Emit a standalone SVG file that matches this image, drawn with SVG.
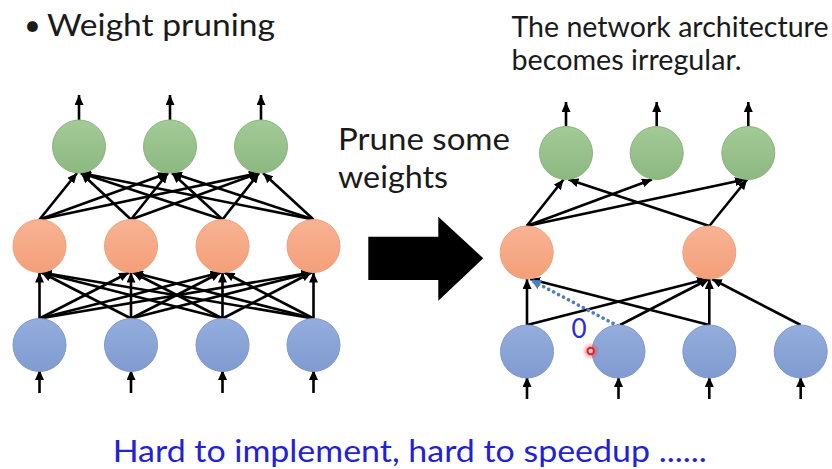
<svg xmlns="http://www.w3.org/2000/svg" width="832" height="469" viewBox="0 0 832 469">
  <style>
    .txt { font-family: Lato, "Noto Sans", "Liberation Sans", sans-serif; fill: #1a1a1a; }
    .blue-txt { font-family: Lato, "Noto Sans", "Liberation Sans", sans-serif; fill: #1f22d6; }
    .g { fill: url(#gradG); stroke: #8ab57d; stroke-width: 1; }
    .o { fill: url(#gradO); stroke: #f0a07c; stroke-width: 1; }
    .b { fill: url(#gradB); stroke: #7f98cc; stroke-width: 1; }
    .edge { stroke: #000; stroke-width: 2.6; fill: none; marker-end: url(#ah); }
    .pruned { stroke: #4d7fbf; stroke-width: 3.6; fill: none; stroke-dasharray: 0.1 5.5; stroke-linecap: round; marker-end: url(#ahb); }
  </style>
  <defs>
    <linearGradient id="gradG" x1="0" y1="0" x2="0" y2="1">
      <stop offset="0" stop-color="#a3ca97"/>
      <stop offset="1" stop-color="#8db880"/>
    </linearGradient>
    <linearGradient id="gradO" x1="0" y1="0" x2="0" y2="1">
      <stop offset="0" stop-color="#f8b394"/>
      <stop offset="1" stop-color="#f49f78"/>
    </linearGradient>
    <linearGradient id="gradB" x1="0" y1="0" x2="0" y2="1">
      <stop offset="0" stop-color="#94addd"/>
      <stop offset="1" stop-color="#809bd0"/>
    </linearGradient>
    <radialGradient id="glow">
      <stop offset="0" stop-color="#ff3030" stop-opacity="0.7"/>
      <stop offset="1" stop-color="#ff3030" stop-opacity="0"/>
    </radialGradient>
    <marker id="ah" markerUnits="userSpaceOnUse" markerWidth="11" markerHeight="9" refX="10" refY="4.5" orient="auto">
      <path d="M0,0 L10,4.5 L0,9 z" fill="#000"/>
    </marker>
    <marker id="ahb" markerUnits="userSpaceOnUse" markerWidth="12" markerHeight="10" refX="10" refY="5" orient="auto">
      <path d="M0,0 L10,5 L0,10 z" fill="#4d7fbf"/>
    </marker>
  </defs>

  <rect width="832" height="469" fill="#ffffff"/>

  <!-- Texts -->
  <g id="title">
    <text class="txt" x="24" y="35" font-size="29">•</text>
    <text class="txt" x="47" y="36" font-size="30" textLength="228" lengthAdjust="spacingAndGlyphs">Weight pruning</text>
  </g>
  <g id="note">
    <text class="txt" x="511.5" y="36.5" font-size="28" textLength="317" lengthAdjust="spacingAndGlyphs">The network architecture</text>
    <text class="txt" x="511.5" y="70" font-size="28" textLength="230" lengthAdjust="spacingAndGlyphs">becomes irregular.</text>
  </g>
  <g id="prune-label">
    <text class="txt" x="338" y="150" font-size="31" textLength="172" lengthAdjust="spacingAndGlyphs">Prune some</text>
    <text class="txt" x="338" y="188" font-size="31" textLength="110" lengthAdjust="spacingAndGlyphs">weights</text>
  </g>
  <g id="big-arrow">
    <polygon points="368.3,236.7 438.3,236.7 438.3,216.7 483.3,258.3 438.3,300.7 438.3,280 368.3,280" fill="#000"/>
  </g>
  <g id="footer">
    <text class="blue-txt" x="112.7" y="462" font-size="30" textLength="594" lengthAdjust="spacingAndGlyphs">Hard to implement, hard to speedup ......</text>
  </g>

  <!-- Connectors -->
  <g id="connectors">
    <!-- left: outputs -->
    <line class="edge" x1="79" y1="120" x2="79" y2="95"/>
    <line class="edge" x1="170" y1="120" x2="170" y2="95"/>
    <line class="edge" x1="261" y1="120" x2="261" y2="95"/>
    <!-- left: inputs -->
    <line class="edge" x1="39.5" y1="393" x2="39.5" y2="370"/>
    <line class="edge" x1="131" y1="393" x2="131" y2="370"/>
    <line class="edge" x1="222.5" y1="393" x2="222.5" y2="370"/>
    <line class="edge" x1="313.5" y1="393" x2="313.5" y2="370"/>
    <!-- left: hidden -> output -->
    <line class="edge" x1="39.5" y1="219.5" x2="77" y2="173"/>
    <line class="edge" x1="39.5" y1="219.5" x2="168" y2="173"/>
    <line class="edge" x1="39.5" y1="219.5" x2="259" y2="173"/>
    <line class="edge" x1="131" y1="219.5" x2="81" y2="173"/>
    <line class="edge" x1="131" y1="219.5" x2="168" y2="173"/>
    <line class="edge" x1="131" y1="219.5" x2="259" y2="173"/>
    <line class="edge" x1="222.5" y1="219.5" x2="81" y2="173"/>
    <line class="edge" x1="222.5" y1="219.5" x2="172" y2="173"/>
    <line class="edge" x1="222.5" y1="219.5" x2="259" y2="173"/>
    <line class="edge" x1="313.5" y1="219.5" x2="81" y2="173"/>
    <line class="edge" x1="313.5" y1="219.5" x2="172" y2="173"/>
    <line class="edge" x1="313.5" y1="219.5" x2="263" y2="173"/>
    <!-- left: input -> hidden -->
    <line class="edge" x1="39.5" y1="318.5" x2="39.5" y2="272.5"/>
    <line class="edge" x1="39.5" y1="318.5" x2="129" y2="272.5"/>
    <line class="edge" x1="39.5" y1="318.5" x2="220.5" y2="272.5"/>
    <line class="edge" x1="39.5" y1="318.5" x2="311.5" y2="272.5"/>
    <line class="edge" x1="131" y1="318.5" x2="41.5" y2="272.5"/>
    <line class="edge" x1="131" y1="318.5" x2="131" y2="272.5"/>
    <line class="edge" x1="131" y1="318.5" x2="220.5" y2="272.5"/>
    <line class="edge" x1="131" y1="318.5" x2="311.5" y2="272.5"/>
    <line class="edge" x1="222.5" y1="318.5" x2="41.5" y2="272.5"/>
    <line class="edge" x1="222.5" y1="318.5" x2="133" y2="272.5"/>
    <line class="edge" x1="222.5" y1="318.5" x2="222.5" y2="272.5"/>
    <line class="edge" x1="222.5" y1="318.5" x2="311.5" y2="272.5"/>
    <line class="edge" x1="313.5" y1="318.5" x2="41.5" y2="272.5"/>
    <line class="edge" x1="313.5" y1="318.5" x2="133" y2="272.5"/>
    <line class="edge" x1="313.5" y1="318.5" x2="224.5" y2="272.5"/>
    <line class="edge" x1="313.5" y1="318.5" x2="313.5" y2="272.5"/>

    <!-- right: outputs -->
    <line class="edge" x1="566" y1="126.5" x2="566" y2="102"/>
    <line class="edge" x1="656.7" y1="126.5" x2="656.7" y2="102"/>
    <line class="edge" x1="748.3" y1="126.5" x2="748.3" y2="102"/>
    <!-- right: inputs -->
    <line class="edge" x1="527" y1="399" x2="527" y2="377"/>
    <line class="edge" x1="618.5" y1="399" x2="618.5" y2="377"/>
    <line class="edge" x1="709.3" y1="399" x2="709.3" y2="377"/>
    <line class="edge" x1="800.7" y1="399" x2="800.7" y2="377"/>
    <!-- right: hidden -> output -->
    <line class="edge" x1="526.7" y1="226" x2="563.5" y2="179.5"/>
    <line class="edge" x1="526.7" y1="226" x2="652" y2="179.5"/>
    <line class="edge" x1="526.7" y1="226" x2="745" y2="179.5"/>
    <line class="edge" x1="709.3" y1="226" x2="568.5" y2="179.5"/>
    <line class="edge" x1="709.3" y1="226" x2="747" y2="179.5"/>
    <!-- right: input -> hidden -->
    <line class="edge" x1="527" y1="325" x2="527" y2="279"/>
    <line class="edge" x1="527" y1="325" x2="707" y2="279"/>
    <line class="edge" x1="620" y1="325" x2="709" y2="279"/>
    <line class="edge" x1="709.3" y1="325" x2="530" y2="279"/>
    <line class="edge" x1="709.3" y1="325" x2="709.3" y2="279"/>
    <line class="edge" x1="800.7" y1="325" x2="712" y2="279"/>
    <!-- pruned weight -->
    <line class="pruned" x1="618" y1="326" x2="531" y2="280"/>
  </g>

  <!-- Left network nodes -->
  <g id="L-out-1"><circle class="g" cx="79" cy="146.5" r="26.5"/></g>
  <g id="L-out-2"><circle class="g" cx="170" cy="146.5" r="26.5"/></g>
  <g id="L-out-3"><circle class="g" cx="261" cy="146.5" r="26.5"/></g>
  <g id="L-hid-1"><circle class="o" cx="39.5" cy="246" r="26.5"/></g>
  <g id="L-hid-2"><circle class="o" cx="131" cy="246" r="26.5"/></g>
  <g id="L-hid-3"><circle class="o" cx="222.5" cy="246" r="26.5"/></g>
  <g id="L-hid-4"><circle class="o" cx="313.5" cy="246" r="26.5"/></g>
  <g id="L-in-1"><circle class="b" cx="39.5" cy="345" r="26.5"/></g>
  <g id="L-in-2"><circle class="b" cx="131" cy="345" r="26.5"/></g>
  <g id="L-in-3"><circle class="b" cx="222.5" cy="345" r="26.5"/></g>
  <g id="L-in-4"><circle class="b" cx="313.5" cy="345" r="26.5"/></g>

  <!-- Right network nodes -->
  <g id="R-out-1"><circle class="g" cx="566" cy="153" r="26.5"/></g>
  <g id="R-out-2"><circle class="g" cx="656.7" cy="153" r="26.5"/></g>
  <g id="R-out-3"><circle class="g" cx="748.3" cy="153" r="26.5"/></g>
  <g id="R-hid-1"><circle class="o" cx="526.7" cy="252.5" r="26.5"/></g>
  <g id="R-hid-2"><circle class="o" cx="709.3" cy="252.5" r="26.5"/></g>
  <g id="R-in-1"><circle class="b" cx="527" cy="351.5" r="26.5"/></g>
  <g id="R-in-2"><circle class="b" cx="618.5" cy="351.5" r="26.5"/></g>
  <g id="R-in-3"><circle class="b" cx="709.3" cy="351.5" r="26.5"/></g>
  <g id="R-in-4"><circle class="b" cx="800.7" cy="351.5" r="26.5"/></g>

  <!-- pruned weight label and pointer dot -->
  <g id="zero-label">
    <text x="579" y="337.5" font-size="26" text-anchor="middle" font-family="Lato, 'Noto Sans', 'Liberation Sans', sans-serif" fill="#2a2ad6">0</text>
  </g>
  <g id="pointer">
    <circle cx="590.7" cy="351" r="9" fill="url(#glow)"/>
    <circle cx="590.7" cy="351" r="3.2" fill="#ffd0d0" stroke="#e82020" stroke-width="2"/>
  </g>
</svg>
